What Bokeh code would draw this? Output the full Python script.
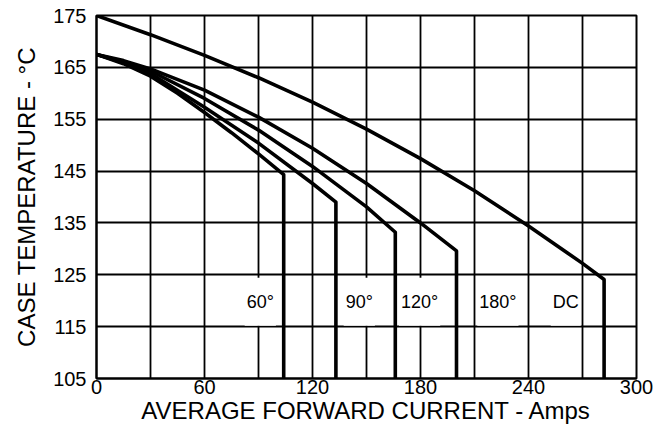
from bokeh.plotting import figure
from bokeh.models import FixedTicker, Label, Range1d, Title
from bokeh.embed import file_html
from bokeh.resources import INLINE

# ---- data ----
x_ticks = [0, 60, 120, 180, 240, 300]
y_ticks = [105, 115, 125, 135, 145, 155, 165, 175]
x_grid = [30, 60, 90, 120, 150, 180, 210, 240, 270]
y_grid = [115, 125, 135, 145, 155, 165]

x_60 = [0, 15, 30, 45, 60, 75, 90, 104, 104]
t_60 = [167.5, 165.7, 163.3, 160.0, 156.3, 152.4, 148.3, 144.3, 105]

x_90 = [0, 15, 30, 60, 90, 120, 133, 133]
t_90 = [167.5, 165.9, 163.8, 157.3, 150.4, 142.6, 139.0, 105]

x_120 = [0, 15, 30, 60, 90, 120, 150, 166, 166]
t_120 = [167.5, 166.1, 164.3, 159.0, 152.9, 145.9, 138.1, 133.2, 105]

x_180 = [0, 15, 30, 60, 90, 120, 150, 180, 200, 200]
t_180 = [167.5, 166.3, 164.7, 160.6, 155.4, 149.4, 142.6, 135.0, 129.6, 105]

x_dc = [0, 30, 60, 90, 120, 150, 180, 210, 240, 270, 282, 282]
t_dc = [175, 171.3, 167.3, 163.0, 158.3, 153.1, 147.4, 141.2, 134.4, 127.2, 124.1, 105]

curve_x = [x_60, x_90, x_120, x_180, x_dc]
curve_t = [t_60, t_90, t_120, t_180, t_dc]

label_text = ["60°", "90°", "120°", "180°", "DC"]
label_x = [91, 146, 179.5, 223, 260.7]
label_t = [119.8, 119.8, 119.8, 119.8, 119.8]

x_title = "AVERAGE FORWARD CURRENT - Amps"
y_title = "CASE TEMPERATURE - °C"

FONT = "Liberation Sans"

p = figure(width=655, height=426, x_range=Range1d(0, 300), y_range=Range1d(105, 175),
           output_backend="svg", toolbar_location=None)
p.min_border_left = 95
p.min_border_right = 19
p.min_border_top = 15
p.min_border_bottom = 43
p.background_fill_color = "white"
p.border_fill_color = "white"
p.outline_line_color = "black"
p.outline_line_width = 2

p.xaxis.ticker = FixedTicker(ticks=x_ticks)
p.yaxis.ticker = FixedTicker(ticks=y_ticks)
p.xgrid.ticker = FixedTicker(ticks=x_grid)
p.ygrid.ticker = FixedTicker(ticks=y_grid)
for g in (p.xgrid, p.ygrid):
    g.grid_line_color = "black"
    g.grid_line_width = 1.8
    g.grid_line_alpha = 1.0

for ax in (p.xaxis, p.yaxis):
    ax.axis_line_color = "black"
    ax.axis_line_width = 2
    ax.major_tick_out = 0
    ax.major_tick_in = 0
    ax.minor_tick_out = 0
    ax.minor_tick_in = 0
    ax.major_label_text_font = FONT
    ax.major_label_text_font_size = "20px"
    ax.major_label_text_color = "black"
    ax.axis_label_text_font = FONT
    ax.axis_label_text_font_style = "normal"
    ax.axis_label_text_color = "black"

p.xaxis.axis_label = x_title
p.xaxis.axis_label_text_font_size = "24px"
p.xaxis.major_label_standoff = 1
p.xaxis.axis_label_standoff = 0
p.yaxis.major_label_standoff = 10

p.add_layout(Title(text=y_title, align="center", offset=17, text_font=FONT,
                   text_font_size="24px", text_font_style="normal", text_color="black",
                   standoff=21), "left")

for txt, lx, lt in zip(label_text, label_x, label_t):
    p.add_layout(Label(x=lx, y=lt, text=txt, text_align="center", text_baseline="middle",
                       text_font=FONT, text_font_size="18px", text_color="black",
                       background_fill_color="white", padding=(2, 14), level="underlay"))

for xs, ts in zip(curve_x, curve_t):
    p.line(xs, ts, line_color="black", line_width=3.6, line_join="round")

open("out.html", "w").write(file_html(p, INLINE))
